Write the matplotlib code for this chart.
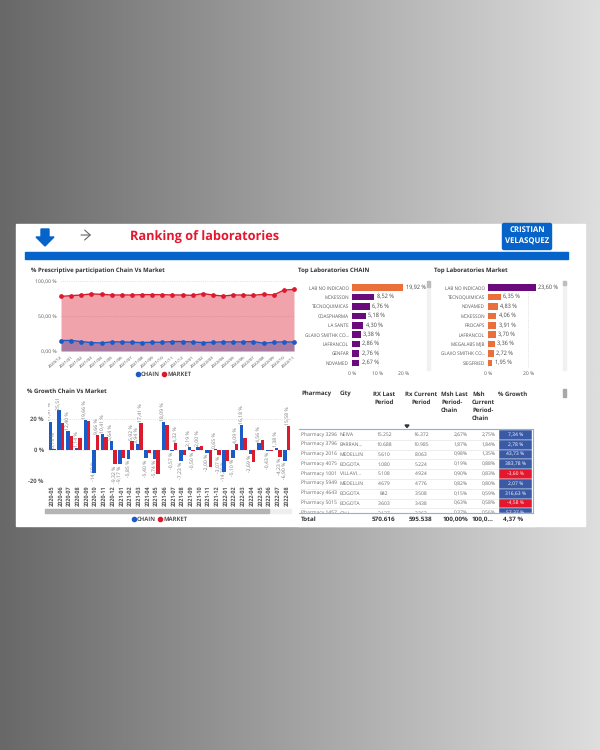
import matplotlib
matplotlib.use('Agg')
import matplotlib.pyplot as plt
import numpy as np
from matplotlib.patches import FancyBboxPatch, Polygon, Rectangle

plt.rcParams['font.family'] = ['Open Sans', 'DejaVu Sans']
plt.rcParams['text.hinting'] = 'no_hinting'

# line chart
months = ['2020/12', '2021/01', '2021/02', '2021/03', '2021/04', '2021/05', '2021/06', '2021/07',
          '2021/08', '2021/09', '2021/10', '2021/11', '2021/12', '2022/01', '2022/02', '2022/03',
          '2022/04', '2022/05', '2022/06', '2022/07', '2022/08', '2022/09', '2022/10', '2022/11']
part_market = [78, 79, 80, 81.5, 81, 80, 80, 80, 80.5, 80.5, 80.5, 80, 80, 79.5, 82, 80,
               78.5, 80, 80, 79.5, 81, 80, 87, 88]
part_chain = [15, 15, 13.5, 12, 11.5, 13, 13, 12.5, 12, 12.5, 12.5, 13.5, 13.5, 13, 12, 12.5,
              13, 13, 13, 13.5, 11, 12.5, 13, 12.8]

# top labs
labs_chain = ['LAB NO INDICADO', 'MCKESSON', 'TECNOQUIMICAS', 'COASPHARMA', 'LA SANTE',
              'GLAXO SMITHK CO...', 'LAFRANCOL', 'GENFAR', 'NOVAMED']
vals_chain = [19.92, 8.52, 6.76, 5.18, 4.30, 3.38, 2.86, 2.76, 2.67]
labs_market = ['LAB NO INDICADO', 'TECNOQUIMICAS', 'NOVAMED', 'MCKESSON', 'PROCAPS',
               'LAFRANCOL', 'MEGALABS MJB', 'GLAXO SMITHK CO...', 'SIEGFRIED']
vals_market = [23.60, 6.35, 4.83, 4.06, 3.91, 3.70, 3.36, 2.72, 1.95]

# growth chart
growth_months = ['2020-05', '2020-06', '2020-07', '2020-08', '2020-09', '2020-10', '2020-11',
                 '2020-12', '2021-01', '2021-02', '2021-03', '2021-04', '2021-05', '2021-06',
                 '2021-07', '2021-08', '2021-09', '2021-10', '2021-11', '2021-12', '2022-01',
                 '2022-02', '2022-03', '2022-04', '2022-05', '2022-06', '2022-07', '2022-08']
growth_chain = [17.97, 25.51, 12.40, 1.14, 19.66, -14.60, 10.41, 5.64, -9.17, -5.85, 3.94, -5.40,
                -5.74, 18.09, -0.57, -7.23, 2.19, 2.00, -2.00, 0.65, -14.30, -5.10, 16.18, -2.69,
                4.56, -0.43, 1.38, -6.90]
growth_market = [0.73, 17.2, 9.1, 8.0, 18.5, 9.66, 8.6, -9.32, -4.9, 5.92, 17.41, -2.2, -15.2,
                 16.2, 4.32, -3.2, -0.50, 2.6, -10.8, -3.07, -6.8, 4.09, 7.6, -7.9, 6.5, -0.4,
                 -4.23, 15.58]
market_labelled = [0, 5, 7, 9, 10, 14, 16, 19, 21, 26, 27]

# table
pharmacy = ['Pharmacy 3296', 'Pharmacy 3796', 'Pharmacy 2016', 'Pharmacy 4075', 'Pharmacy 1001',
            'Pharmacy 5949', 'Pharmacy 4643', 'Pharmacy 5015', 'Pharmacy 1457']
city = ['NEIVA', 'BARRAN...', 'MEDELLIN', 'BOGOTA', 'VILLAVI...', 'MEDELLIN', 'BOGOTA', 'BOGOTA', 'CALI']
rx_last = ['15.252', '10.688', '5.610', '1.080', '5.108', '4.679', '842', '3.603', '2.137']
rx_current = ['16.372', '10.985', '8.063', '5.224', '4.924', '4.776', '3.508', '3.438', '3.363']
msh_last = ['2,67%', '1,87%', '0,98%', '0,19%', '0,90%', '0,82%', '0,15%', '0,63%', '0,37%']
msh_current = ['2,75%', '1,84%', '1,35%', '0,88%', '0,83%', '0,80%', '0,59%', '0,58%', '0,56%']
growth_pct = [7.34, 2.78, 43.73, 383.78, -3.60, 2.07, 316.63, -4.58, 57.37]

BLUE = '#0563C9'
CHAIN = '#1B5BC8'
MARKET = '#DC1A2E'
PURPLE = '#6A0A7C'
ORANGE = '#E9703A'
W, H = 600, 750


def pct(v):
    return f'{v:.2f} %'.replace('.', ',')


def box(x0, y0, x1, y1):
    # axes from pixel corners, y measured from the top
    a = fig.add_axes([x0 / W, 1 - y1 / H, (x1 - x0) / W, (y1 - y0) / H])
    a.patch.set_alpha(0)
    for s in a.spines.values():
        s.set_visible(False)
    return a


def legend_row(y, x0, x1):
    bg.scatter([x0], [y], s=9, color=CHAIN, zorder=3)
    bg.text(x0 + 3, y, 'CHAIN', fontsize=4.2, weight='bold', color='#555555', va='center', zorder=3)
    bg.scatter([x1], [y], s=9, color=MARKET, zorder=3)
    bg.text(x1 + 3, y, 'MARKET', fontsize=4.2, weight='bold', color='#555555', va='center', zorder=3)


fig = plt.figure(figsize=(6, 7.5), dpi=100)
bg = fig.add_axes([0, 0, 1, 1])
grad = np.linspace(0, 1, 256).reshape(1, -1)
bg.imshow(grad, extent=(0, W, H, 0), aspect='auto', cmap=matplotlib.colors.LinearSegmentedColormap.from_list(
    'g', ['#686868', '#dedede']), zorder=0)
bg.set_xlim(0, W)
bg.set_ylim(H, 0)
bg.axis('off')

# white page and header
bg.add_patch(Rectangle((16, 224), 569, 302, color='white', zorder=1))
bg.add_patch(Rectangle((25, 252), 543, 7, color=BLUE, zorder=2))
bg.add_patch(Polygon([(41, 229), (49, 229), (49, 237), (54, 237), (45, 246), (36, 237), (41, 237)],
                     color=BLUE, zorder=2))
bg.annotate('', xy=(91, 235), xytext=(81, 235), zorder=2,
            arrowprops=dict(arrowstyle='->,head_length=0.5,head_width=0.45', color='#666666', lw=0.8,
                            mutation_scale=8, shrinkA=0, shrinkB=0))
bg.text(130, 237, 'Ranking of laboratories', fontsize=9.2, weight='bold', color='#E5162F',
        va='center', zorder=3)
bg.add_patch(FancyBboxPatch((503, 224), 48, 25, boxstyle='round,pad=0.5,rounding_size=1.5',
                            color=BLUE, zorder=2))
bg.text(527, 230, 'CRISTIAN', fontsize=5.6, weight='bold', color='white', ha='center', va='center', zorder=3)
bg.text(527, 242, 'VELASQUEZ', fontsize=5.6, weight='bold', color='white', ha='center', va='center', zorder=3)

# panel titles
for tx, ty, t in [(31, 271, '% Prescriptive participation Chain Vs Market'),
                  (298, 271, 'Top Laboratories CHAIN'),
                  (434, 271, 'Top Laboratories Market'),
                  (27, 391, '% Growth Chain Vs Market')]:
    bg.text(tx, ty, t, fontsize=4.3, weight='bold', color='#333333', va='center', zorder=3)

# participation chart
ax = box(61, 281, 294, 351)
x = np.arange(len(months))
ax.fill_between(x, part_market, color=MARKET, alpha=0.4, lw=0)
ax.fill_between(x, part_chain, color='#2A2F8C', alpha=0.35, lw=0)
ax.plot(x, part_market, color=MARKET, lw=1.0, marker='o', ms=2.4, clip_on=False)
ax.plot(x, part_chain, color=CHAIN, lw=1.0, marker='o', ms=2.4, clip_on=False)
ax.set_xlim(0, len(months) - 1)
ax.set_ylim(0, 100)
ax.set_yticks([0, 50, 100], ['0,00 %', '50,00 %', '100,00 %'], fontsize=3.7, color='#555555')
ax.set_xticks(x, months, rotation=40, ha='right', rotation_mode='anchor', fontsize=3.2, color='#444444')
ax.tick_params(length=0, pad=3)
ax.grid(axis='y', ls=':', lw=0.5, color='#cccccc')
ax.set_axisbelow(True)
legend_row(374, 138, 164)


def top_bars(x0, x1, xmax, labs, vals, first, rest, ticks):
    a = box(x0, 283, x1, 367.6)
    ypos = np.arange(len(labs))
    a.barh(ypos, vals, height=0.72, color=[first] + [rest] * (len(vals) - 1))
    a.set_ylim(len(labs) - 0.5, -0.5)
    a.set_xlim(0, xmax)
    a.set_yticks(ypos, labs, fontsize=3.3, color='#555555')
    a.set_xticks(ticks, [f'{t} %' for t in ticks], fontsize=3.6, color='#555555')
    a.tick_params(length=0, pad=2.5)
    a.grid(axis='x', ls=':', lw=0.5, color='#cccccc')
    a.set_axisbelow(True)
    for yy, v in zip(ypos, vals):
        a.text(v + xmax * 0.05, yy, pct(v), fontsize=4, color='#444444', va='center', clip_on=False)


top_bars(352.3, 403.3, 20, labs_chain, vals_chain, ORANGE, PURPLE, [0, 10, 20])
top_bars(488.3, 536.3, 24, labs_market, vals_market, PURPLE, ORANGE, [0, 20])

# scrollbars
bg.add_patch(Rectangle((426.5, 281), 3, 89, color='#f1f1f1', zorder=2))
bg.add_patch(Rectangle((426.5, 281), 3, 6, color='#bdbdbd', zorder=3))
bg.add_patch(Rectangle((563, 281), 3, 89, color='#f1f1f1', zorder=2))
bg.add_patch(Rectangle((563, 281), 3, 4, color='#bdbdbd', zorder=3))
bg.add_patch(Rectangle((45, 509), 246, 3.5, color='#eeeeee', zorder=2))
bg.add_patch(Rectangle((45, 509), 224, 3.5, color='#b4b4b4', zorder=3))
bg.add_patch(Rectangle((562.5, 389), 3, 8, color='#a8a8a8', zorder=3))

# growth chart, top of the axes cuts the tall labels like the reference does
ax2 = box(47.9, 399, 291.1, 481)
gx = np.arange(len(growth_months))
ax2.bar(gx - 0.2, growth_chain, width=0.4, color=CHAIN, zorder=3)
ax2.bar(gx + 0.2, growth_market, width=0.4, color=MARKET, zorder=3)
ax2.set_xlim(-0.5, len(growth_months) - 0.5)
ax2.set_ylim(-20, 32.9)
ax2.set_yticks([-20, 0, 20], ['-20 %', '0 %', '20 %'], fontsize=4.2, weight='bold', color='#555555')
ax2.set_xticks(gx, growth_months, rotation=90, fontsize=4, weight='bold', color='#555555')
ax2.tick_params(length=0, pad=3)
ax2.grid(axis='y', ls=':', lw=0.5, color='#cccccc')
ax2.set_axisbelow(True)


def bar_label(xp, v):
    if v < -12:
        ax2.text(xp, -20, pct(v), rotation=90, fontsize=3.7, color='#777777', ha='center', va='bottom', zorder=2)
    elif v < 0:
        ax2.text(xp, v - 0.6, pct(v), rotation=90, fontsize=3.7, color='#777777', ha='center', va='top', zorder=4, clip_on=False)
    else:
        ax2.text(xp, v + 0.6, pct(v), rotation=90, fontsize=3.7, color='#777777', ha='center', va='bottom', zorder=4, clip_on=True)


for i, v in enumerate(growth_chain):
    bar_label(i - 0.2, v)
for i in market_labelled:
    bar_label(i + 0.2, growth_market[i])
legend_row(519, 134, 160)

# table
cols = [(301, 'left', 'Pharmacy'), (340, 'left', 'City'), (384, 'center', 'RX Last\nPeriod'),
        (421, 'center', 'Rx Current\nPeriod'), (441, 'left', 'Msh Last\nPeriod-\nChain'),
        (472, 'left', 'Msh\nCurrent\nPeriod-\nChain'), (513, 'center', '% Growth')]
for tx, ha, t in cols:
    bg.text(tx, 391, t, fontsize=4.3, weight='bold', color='#333333', ha=ha, va='top', linespacing=1.45, zorder=3)
bg.add_patch(Polygon([(405, 425), (409, 425), (407, 427.5)], color='#333333', zorder=3))
row_h = 9.77
for i in range(len(pharmacy)):
    y = 435 + i * row_h
    bg.plot([300, 499], [y + row_h / 2] * 2, color='#e6e6e6', lw=0.5, zorder=2)
    for tx, ha, t in [(301, 'left', pharmacy[i]), (340, 'left', city[i]), (384, 'center', rx_last[i]),
                      (421, 'center', rx_current[i]), (468, 'right', msh_last[i]), (496, 'right', msh_current[i])]:
        bg.text(tx, y, t, fontsize=3.6, color='#666666', ha=ha, va='center', zorder=3)
    bg.add_patch(Rectangle((499, y - row_h / 2), 33, row_h, zorder=2, ec='white', lw=0.3,
                           fc='#3A5AA6' if growth_pct[i] >= 0 else '#E3172E'))
    bg.text(515.5, y, pct(growth_pct[i]), fontsize=3.6, color='white', ha='center', va='center', zorder=3)
bg.add_patch(Rectangle((298, 513), 236, 13, color='white', zorder=4))
bg.plot([299, 533], [429, 429], color='#7DB6EC', lw=0.8, zorder=5)
bg.plot([299, 533], [513, 513], color='#7DB6EC', lw=0.8, zorder=5)
bg.plot([533, 533], [429, 513], color='#7DB6EC', lw=0.8, zorder=5)
for tx, ha, t in [(301, 'left', 'Total'), (384, 'center', '570.616'), (421, 'center', '595.538'),
                  (468, 'right', '100,00%'), (472, 'left', '100,0...'), (513, 'center', '4,37 %')]:
    bg.text(tx, 519.5, t, fontsize=4.6, weight='bold', color='#333333', ha=ha, va='center', zorder=6)

fig.savefig('out.png', dpi=100)
